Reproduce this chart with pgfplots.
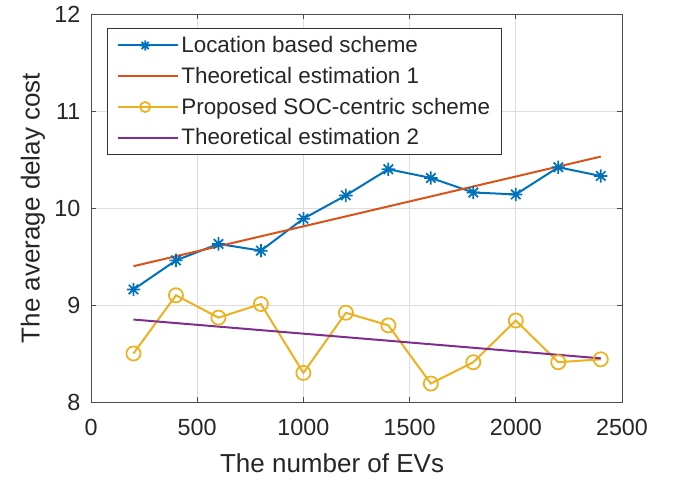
\documentclass[border=0pt]{standalone}
\usepackage{pgfplots}
\pgfplotsset{compat=1.18}
\usepackage{fontspec}
\setmainfont{Liberation Sans}
\definecolor{mblue}{rgb}{0,0.447,0.741}
\definecolor{morange}{rgb}{0.85,0.325,0.098}
\definecolor{myellow}{rgb}{0.929,0.694,0.125}
\definecolor{mpurple}{rgb}{0.494,0.184,0.556}
\definecolor{mtext}{rgb}{0.15,0.15,0.15}
\pgfdeclareplotmark{mstar}{%
  \pgfpathmoveto{\pgfqpoint{0pt}{\pgfplotmarksize}}\pgfpathlineto{\pgfqpoint{0pt}{-\pgfplotmarksize}}%
  \pgfpathmoveto{\pgfqpoint{\pgfplotmarksize}{0pt}}\pgfpathlineto{\pgfqpoint{-\pgfplotmarksize}{0pt}}%
  \pgfpathmoveto{\pgfqpoint{0.707\pgfplotmarksize}{0.707\pgfplotmarksize}}\pgfpathlineto{\pgfqpoint{-0.707\pgfplotmarksize}{-0.707\pgfplotmarksize}}%
  \pgfpathmoveto{\pgfqpoint{0.707\pgfplotmarksize}{-0.707\pgfplotmarksize}}\pgfpathlineto{\pgfqpoint{-0.707\pgfplotmarksize}{0.707\pgfplotmarksize}}%
  \pgfusepathqstroke}
\begin{document}
\begin{tikzpicture}
\begin{axis}[
  scale only axis,
  width=398.25pt, height=291pt,
  xmin=0, xmax=2500, ymin=8, ymax=12,
  xtick={0,500,1000,1500,2000,2500},
  ytick={8,9,10,11,12},
  /pgf/number format/assume math mode=true,
  /pgf/number format/1000 sep={},
  tick label style={font=\fontsize{17.5}{19}\selectfont, text=mtext},
  xticklabel style={yshift=-9pt},
  yticklabel style={xshift=-4.5pt},
  label style={font=\fontsize{19.5}{22}\selectfont, text=mtext},
  xlabel={The number of EVs},
  ylabel={The average delay cost},
  xlabel style={at={(axis description cs:0.454,0)}, anchor=north, yshift=-35pt},
  ylabel style={at={(axis description cs:0,0.5)}, anchor=south, yshift=31pt},
  grid=major,
  major grid style={draw=black!13, line width=0.5pt},
  axis line style={draw=black!70, line width=0.6pt},
  tick style={draw=black!70, line width=0.6pt},
  tick align=inside,
  major tick length=4pt,
  xtick pos=both, ytick pos=both,
  legend style={at={(0.030,0.964)}, anchor=north west, draw=black!80, line width=0.6pt,
    font=\fontsize{16.8}{19}\selectfont, text=mtext, row sep=6.4pt, inner xsep=7pt, inner ysep=4.5pt,
    nodes={inner sep=1.5pt}},
  legend cell align=left,
  legend image code/.code={\path (0cm,0cm) -- (1.6cm,0cm); \draw[#1] (0cm,0cm) -- (1.45cm,0cm); \draw[#1,only marks,mark size=3.8pt] plot coordinates {(0.725cm,0cm)};},
]
\addplot[color=mblue, line width=1.5pt, mark=mstar, mark size=5pt, mark options={line width=1.3pt}] coordinates {
(200,9.16) (400,9.46) (600,9.63) (800,9.56) (1000,9.89) (1200,10.13) (1400,10.40) (1600,10.31) (1800,10.16) (2000,10.14) (2200,10.42) (2400,10.33)};
\addlegendentry{Location based scheme}
\addplot[color=morange, line width=1.5pt] coordinates {(200,9.40) (2400,10.53)};
\addlegendentry{Theoretical estimation 1}
\addplot[color=myellow, line width=1.5pt, mark=o, mark size=5.3pt, mark options={line width=1.3pt}] coordinates {
(200,8.50) (400,9.10) (600,8.87) (800,9.01) (1000,8.30) (1200,8.92) (1400,8.79) (1600,8.19) (1800,8.41) (2000,8.84) (2200,8.41) (2400,8.44)};
\addlegendentry{Proposed SOC-centric scheme}
\addplot[color=mpurple, line width=1.5pt] coordinates {(200,8.85) (2400,8.45)};
\addlegendentry{Theoretical estimation 2}
\end{axis}
\useasboundingbox (current axis.south west) ++(-68.25pt,-62.25pt) rectangle ([xshift=38.25pt,yshift=10.5pt]current axis.north east);
\end{tikzpicture}
\end{document}
